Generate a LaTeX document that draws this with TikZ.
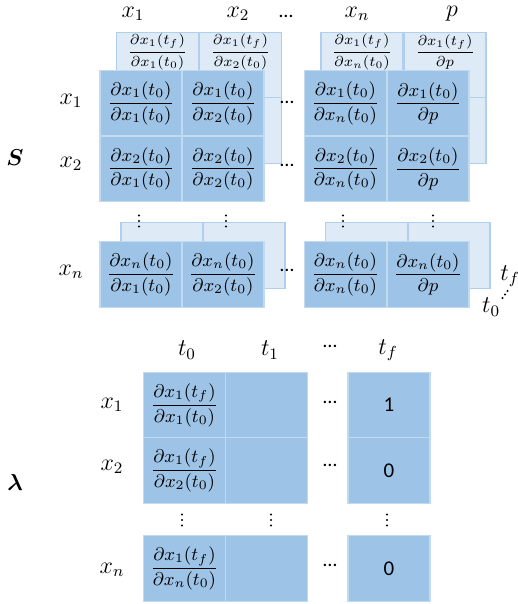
\RequirePackage{fix-cm}
\documentclass[tikz,border=0pt]{standalone}
\usepackage{amsmath}
\usepackage{fontspec}
\setmainfont{Carlito}
\definecolor{frontfill}{HTML}{9DC3E6}
\definecolor{frontline}{HTML}{C2DAF0}
\definecolor{backfill}{HTML}{DEEBF7}
\definecolor{backline}{HTML}{B0CFEC}
\tikzset{
  cellbase/.style={rectangle, inner sep=0pt, outer sep=0pt, line width=0.6pt,
    minimum width=41pt, minimum height=32.75pt},
  frontcell/.style={cellbase, fill=frontfill, draw=frontline},
  backcell/.style={cellbase, fill=backfill, draw=backline},
  bigfrac/.style={inner sep=0pt, font=\fontsize{9.2}{11}\selectfont},
  smallfrac/.style={inner sep=0pt, font=\fontsize{7.2}{8.5}\selectfont},
  lab/.style={inner sep=0pt, font=\fontsize{12}{14}\selectfont},
  matlab/.style={inner sep=0pt, font=\fontsize{11.5}{13}\selectfont},
  hdots/.style={inner sep=0pt, font=\fontsize{10}{12}\selectfont},
  val/.style={inner sep=0pt, font=\fontsize{10.5}{12}\selectfont},
}
\newcommand{\pd}[2]{$\dfrac{\partial #1}{\partial #2}$}
\newcommand{\vdotsat}[2]{\foreach \dd in {-5.5,0,5.5} \fill (#1,#2+\dd) circle (0.6pt);}
\begin{document}
\begin{tikzpicture}[x=0.5pt,y=-0.5pt]
\useasboundingbox (0,0) rectangle (518,604);

% ---------------- S : back layer (t_f) ----------------
\node[backcell] (b11) at (157.5,65.5) {};
\node[backcell] (b12) at (240.5,65.5) {};
\node[backcell] (b1n) at (362,65.5) {};
\node[backcell] (b1p) at (445,65.5) {};
\node[backcell] (b21) at (157.5,130.5) {};
\node[backcell] (b22) at (240.5,130.5) {};
\node[backcell] (b2n) at (362,130.5) {};
\node[backcell] (b2p) at (445,130.5) {};
\node[backcell] (bn1) at (162,255.5) {};
\node[backcell] (bn2) at (244,255.5) {};
\node[backcell] (bnn) at (366.5,255.5) {};
\node[backcell] (bnp) at (449,255.5) {};

\node[smallfrac] (tb1) at (157.5,52) {\pd{x_1(t_f)}{x_1(t_0)}};
\node[smallfrac] (tb2) at (240.5,52) {\pd{x_1(t_f)}{x_2(t_0)}};
\node[smallfrac] (tbn) at (362,52) {\pd{x_1(t_f)}{x_n(t_0)}};
\node[smallfrac] (tbp) at (445,52) {\pd{x_1(t_f)}{p}};

% ---------------- S : front layer (t_0) ----------------
\node[frontcell] (f11) at (141,103.25) {}; \node[bigfrac] at (f11) {\pd{x_1(t_0)}{x_1(t_0)}};
\node[frontcell] (f12) at (223,103.25) {}; \node[bigfrac] at (f12) {\pd{x_1(t_0)}{x_2(t_0)}};
\node[frontcell] (f1n) at (345.5,103.25) {}; \node[bigfrac] at (f1n) {\pd{x_1(t_0)}{x_n(t_0)}};
\node[frontcell] (f1p) at (428,103.25) {}; \node[bigfrac] at (f1p) {\pd{x_1(t_0)}{p}};
\node[frontcell] (f21) at (141,168.75) {}; \node[bigfrac] at (f21) {\pd{x_2(t_0)}{x_1(t_0)}};
\node[frontcell] (f22) at (223,168.75) {}; \node[bigfrac] at (f22) {\pd{x_2(t_0)}{x_2(t_0)}};
\node[frontcell] (f2n) at (345.5,168.75) {}; \node[bigfrac] at (f2n) {\pd{x_2(t_0)}{x_n(t_0)}};
\node[frontcell] (f2p) at (428,168.75) {}; \node[bigfrac] at (f2p) {\pd{x_2(t_0)}{p}};
\node[frontcell] (fn1) at (141,274.5) {}; \node[bigfrac] at (fn1) {\pd{x_n(t_0)}{x_1(t_0)}};
\node[frontcell] (fn2) at (223,274.5) {}; \node[bigfrac] at (fn2) {\pd{x_n(t_0)}{x_2(t_0)}};
\node[frontcell] (fnn) at (345.5,274.5) {}; \node[bigfrac] at (fnn) {\pd{x_n(t_0)}{x_n(t_0)}};
\node[frontcell] (fnp) at (428,274.5) {}; \node[bigfrac] at (fnp) {\pd{x_n(t_0)}{p}};

% labels of S
\node[lab] (cx1) at (133,14) {$x_1$};
\node[lab] (cx2) at (238,14) {$x_2$};
\node[hdots] (cdots) at (286,16) {…};
\node[lab] (cxn) at (357,14) {$x_n$};
\node[lab] (cp) at (452,14) {$p$};
\node[lab] (rx1) at (71,101) {$x_1$};
\node[lab] (rx2) at (71,164) {$x_2$};
\node[lab] (rxn) at (71,272) {$x_n$};
\node[matlab] (S) at (15,158) {$\boldsymbol{S}$};
\node[hdots] (sd1) at (287,102) {…};
\node[hdots] (sd2) at (287,165) {…};
\node[hdots] (sd3) at (287,270) {…};
\vdotsat{139}{221}
\vdotsat{226}{221}
\vdotsat{343}{221}
\vdotsat{433}{221}
\node[lab] (ltf) at (510,276) {$t_f$};
\node[lab] (lt0) at (491,307) {$t_0$};
\foreach \k in {0,1,2} \fill (502.5+2.5*\k,298-3.5*\k) circle (0.55pt);

% ---------------- lambda ----------------
\node[frontcell] (l11) at (184.5,405) {}; \node[bigfrac] at (l11) {\pd{x_1(t_f)}{x_1(t_0)}};
\node[frontcell] (l12) at (266.5,405) {};
\node[frontcell] (l1f) at (389,405) {}; \node[val] at (l1f) {1};
\node[frontcell] (l21) at (184.5,470.5) {}; \node[bigfrac] at (l21) {\pd{x_1(t_f)}{x_2(t_0)}};
\node[frontcell] (l22) at (266.5,470.5) {};
\node[frontcell] (l2f) at (389,470.5) {}; \node[val] at (l2f) {0};
\node[frontcell] (ln1) at (184.5,568.5) {}; \node[bigfrac] at (ln1) {\pd{x_1(t_f)}{x_n(t_0)}};
\node[frontcell] (ln2) at (266.5,568.5) {};
\node[frontcell] (lnf) at (389,568.5) {}; \node[val] at (lnf) {0};

\node[lab] (lt0c) at (187,350) {$t_0$};
\node[lab] (lt1c) at (270,350) {$t_1$};
\node[hdots] (ldc) at (330,346) {…};
\node[lab] (ltfc) at (388,350) {$t_f$};
\node[lab] (lx1) at (112,405) {$x_1$};
\node[lab] (lx2) at (112,467) {$x_2$};
\node[lab] (lxn) at (112,570) {$x_n$};
\node[matlab] (lam) at (15,483) {$\boldsymbol{\lambda}$};
\node[hdots] (ld1) at (330,402) {…};
\node[hdots] (ld2) at (330,465) {…};
\node[hdots] (ld3) at (330,565) {…};
\vdotsat{182}{520}
\vdotsat{271}{520}
\vdotsat{387}{520}
\end{tikzpicture}
\end{document}
